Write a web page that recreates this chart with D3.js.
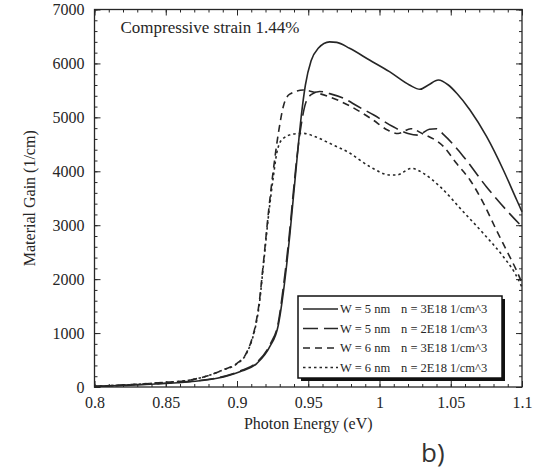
<!DOCTYPE html>
<html>
<head>
<meta charset="utf-8">
<script src="https://cdn.jsdelivr.net/npm/d3@7"></script>
<style>
    body { margin: 0; background: #fff; }
    svg { display: block; }
</style>
</head>
<body>
<div id="gain"></div>
<script>
// axis ticks
const xTicks = [0.8, 0.85, 0.9, 0.95, 1, 1.05, 1.1];
const xTickLabels = ["0.8", "0.85", "0.9", "0.95", "1", "1.05", "1.1"];
const yTicks = [0, 1000, 2000, 3000, 4000, 5000, 6000, 7000];

// W = 5 nm, n = 3E18  [photon energy (eV), gain (1/cm)]
const w5n3 = [
    [0.800, 10], [0.820, 30], [0.843, 56], [0.867, 98], [0.886, 161], [0.902, 284],
    [0.914, 439], [0.923, 747], [0.929, 1150], [0.9325, 1750], [0.935, 2300],
    [0.937, 2800], [0.9395, 3500], [0.942, 4200], [0.945, 5000], [0.948, 5600],
    [0.952, 6050], [0.957, 6280], [0.965, 6400], [0.970, 6390], [0.979, 6280],
    [0.993, 6063], [1.007, 5847], [1.021, 5600], [1.0284, 5520], [1.0343, 5600],
    [1.0413, 5692], [1.0483, 5600], [1.0542, 5446], [1.0635, 5136], [1.0752, 4641],
    [1.0869, 4024], [1.0963, 3467], [1.100, 3250]
];

// W = 5 nm, n = 2E18
const w5n2 = [
    [0.800, 10], [0.820, 32], [0.843, 60], [0.867, 105], [0.886, 170], [0.902, 295],
    [0.914, 460], [0.923, 780], [0.929, 1200], [0.9325, 1850], [0.935, 2400],
    [0.937, 2900], [0.9395, 3600], [0.942, 4250], [0.945, 4850], [0.948, 5250],
    [0.952, 5420], [0.958, 5480], [0.965, 5440], [0.975, 5350], [0.985, 5200],
    [0.996, 5043], [1.010, 4820], [1.020, 4700], [1.027, 4670], [1.035, 4780],
    [1.040, 4790], [1.045, 4680], [1.059, 4270], [1.075, 3714], [1.089, 3282],
    [1.100, 2973]
];

// W = 6 nm, n = 3E18
const w6n3 = [
    [0.800, 12], [0.820, 36], [0.843, 74], [0.867, 130], [0.879, 204], [0.890, 315],
    [0.900, 439], [0.906, 600], [0.910, 850], [0.913, 1150], [0.9155, 1550], [0.9185, 2293],
    [0.922, 3220], [0.9255, 4024], [0.929, 4700], [0.9325, 5200], [0.937, 5430],
    [0.9465, 5507], [0.955, 5460], [0.965, 5380], [0.980, 5200], [0.995, 4960],
    [1.006, 4760], [1.013, 4700], [1.022, 4790], [1.030, 4700], [1.045, 4456],
    [1.054, 4148], [1.0635, 3838], [1.073, 3406], [1.082, 2911], [1.089, 2540],
    [1.096, 2170], [1.100, 1930]
];

// W = 6 nm, n = 2E18
const w6n2 = [
    [0.800, 12], [0.820, 36], [0.843, 74], [0.867, 130], [0.879, 204], [0.890, 315],
    [0.900, 430], [0.906, 590], [0.910, 830], [0.913, 1120], [0.9155, 1500], [0.9185, 2250],
    [0.922, 3150], [0.9255, 3900], [0.928, 4350], [0.932, 4600], [0.9395, 4690],
    [0.9465, 4704], [0.955, 4640], [0.965, 4519], [0.979, 4339], [0.9933, 4085],
    [1.0074, 3931], [1.0121, 3931], [1.0226, 4055], [1.0308, 3962], [1.0425, 3714],
    [1.0588, 3250], [1.0728, 2850], [1.0869, 2416], [1.0951, 2108], [1.100, 1850]
];

const seriesData = [w5n3, w5n2, w6n3, w6n2];
const widthLabels = ["W = 5 nm", "W = 5 nm", "W = 6 nm", "W = 6 nm"];
const densityLabels = ["n = 3E18 1/cm^3", "n = 2E18 1/cm^3", "n = 3E18 1/cm^3", "n = 2E18 1/cm^3"];
const dashes = [null, "15,6", "7,5", "2.5,3"];

const W = 543, H = 475;
const margin = { top: 9.5, right: 21, bottom: 88, left: 94.5 };
const serif = "'Liberation Serif', 'Times New Roman', serif";
const ink = "#262626";

const svg = d3.select("#gain").append("svg")
    .attr("width", W)
    .attr("height", H);

const x = d3.scaleLinear()
    .domain([0.8, 1.1])
    .range([margin.left, W - margin.right]);

const y = d3.scaleLinear()
    .domain([0, 7000])
    .range([H - margin.bottom, margin.top]);

const x0 = x.range()[0], x1 = x.range()[1];
const y0 = y.range()[0], y1 = y.range()[1];

// minor ticks on all four sides
const xMinor = d3.range(0.80, 1.1001, 0.01);
const yMinor = d3.range(0, 7001, 200);

function styleAxis(g) {
    g.select(".domain").remove();
    g.selectAll("line").attr("stroke", ink).attr("stroke-width", 1);
    g.selectAll("text").attr("fill", ink).style("font-family", serif).style("font-size", "16px");
}

svg.append("g").attr("transform", "translate(0," + y0 + ")")
    .call(d3.axisBottom(x).tickValues(xMinor).tickSize(-3).tickFormat(""))
    .call(styleAxis);
svg.append("g").attr("transform", "translate(0," + y1 + ")")
    .call(d3.axisTop(x).tickValues(xMinor).tickSize(-3).tickFormat(""))
    .call(styleAxis);
svg.append("g").attr("transform", "translate(" + x0 + ",0)")
    .call(d3.axisLeft(y).tickValues(yMinor).tickSize(-3).tickFormat(""))
    .call(styleAxis);
svg.append("g").attr("transform", "translate(" + x1 + ",0)")
    .call(d3.axisRight(y).tickValues(yMinor).tickSize(-3).tickFormat(""))
    .call(styleAxis);

// major ticks + labels
svg.append("g").attr("transform", "translate(0," + y0 + ")")
    .call(d3.axisBottom(x).tickValues(xTicks).tickSize(-6).tickPadding(9.5)
        .tickFormat((d, i) => xTickLabels[i]))
    .call(styleAxis);
svg.append("g").attr("transform", "translate(0," + y1 + ")")
    .call(d3.axisTop(x).tickValues(xTicks).tickSize(-6).tickFormat(""))
    .call(styleAxis);
svg.append("g").attr("transform", "translate(" + x0 + ",0)")
    .call(d3.axisLeft(y).tickValues(yTicks).tickSize(-6).tickPadding(10)
        .tickFormat(d3.format("d")))
    .call(styleAxis);
svg.append("g").attr("transform", "translate(" + x1 + ",0)")
    .call(d3.axisRight(y).tickValues(yTicks).tickSize(-6).tickFormat(""))
    .call(styleAxis);

// frame
svg.append("rect")
    .attr("x", x0).attr("y", y1)
    .attr("width", x1 - x0).attr("height", y0 - y1)
    .attr("fill", "none")
    .attr("stroke", ink)
    .attr("stroke-width", 1.3);

// curves
const line = d3.line()
    .x(d => x(d[0]))
    .y(d => y(d[1]))
    .curve(d3.curveMonotoneX);

svg.selectAll(".curve")
    .data(seriesData)
    .enter().append("path")
    .attr("class", "curve")
    .attr("d", line)
    .attr("fill", "none")
    .attr("stroke", ink)
    .attr("stroke-width", 1.6)
    .attr("stroke-dasharray", (d, i) => dashes[i]);

// annotation
svg.append("text")
    .attr("x", 120.5)
    .attr("y", 33)
    .attr("fill", ink)
    .style("font-family", serif)
    .style("font-size", "17px")
    .text("Compressive strain 1.44%");

// axis titles
svg.append("text")
    .attr("x", (x0 + x1) / 2)
    .attr("y", 429)
    .attr("text-anchor", "middle")
    .attr("fill", ink)
    .style("font-family", serif)
    .style("font-size", "16px")
    .text("Photon Energy (eV)");

svg.append("text")
    .attr("transform", "translate(35," + ((y0 + y1) / 2) + ") rotate(-90)")
    .attr("text-anchor", "middle")
    .attr("fill", ink)
    .style("font-family", serif)
    .style("font-size", "16px")
    .text("Material Gain (1/cm)");

// legend
const lg = { x: 298, y: 296, w: 204, h: 82 };
svg.append("rect")
    .attr("x", lg.x + 3).attr("y", lg.y + 3)
    .attr("width", lg.w).attr("height", lg.h)
    .attr("fill", "#111");
svg.append("rect")
    .attr("x", lg.x).attr("y", lg.y)
    .attr("width", lg.w).attr("height", lg.h)
    .attr("fill", "#fff")
    .attr("stroke", "#111")
    .attr("stroke-width", 1.5);

const rows = svg.selectAll(".legend")
    .data(widthLabels)
    .enter().append("g")
    .attr("class", "legend")
    .attr("transform", (d, i) => "translate(0," + (lg.y + 13 + i * 19.5) + ")");

rows.append("line")
    .attr("x1", 303).attr("x2", 338)
    .attr("y1", 0).attr("y2", 0)
    .attr("stroke", ink)
    .attr("stroke-width", 1.6)
    .attr("stroke-dasharray", (d, i) => dashes[i]);

rows.append("text")
    .attr("x", 340)
    .attr("y", 4)
    .attr("fill", ink)
    .style("font-family", serif)
    .style("font-size", "12.5px")
    .text(d => d);

rows.append("text")
    .attr("x", 401)
    .attr("y", 4)
    .attr("fill", ink)
    .style("font-family", serif)
    .style("font-size", "12.5px")
    .text((d, i) => densityLabels[i]);

// panel label
svg.append("text")
    .attr("x", 421)
    .attr("y", 462)
    .attr("fill", "#333")
    .style("font-family", "'Open Sans', sans-serif")
    .style("font-size", "26px")
    .text("b)");
</script>
</body>
</html>
